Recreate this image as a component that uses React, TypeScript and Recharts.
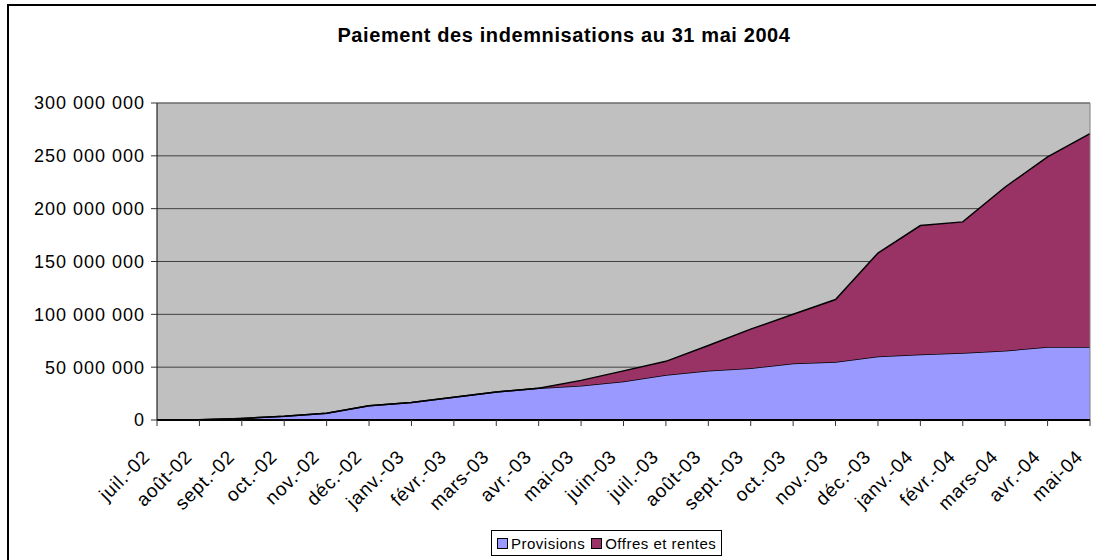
import { AreaChart, Area, XAxis, YAxis, CartesianGrid, ReferenceLine } from "recharts";

const months = [
  "juil.-02", "août-02", "sept.-02", "oct.-02", "nov.-02", "déc.-02",
  "janv.-03", "févr.-03", "mars-03", "avr.-03", "mai-03", "juin-03",
  "juil.-03", "août-03", "sept.-03", "oct.-03", "nov.-03", "déc.-03",
  "janv.-04", "févr.-04", "mars-04", "avr.-04", "mai-04",
];

const provisions = [
  0, 300000, 1500000, 3500000, 6500000, 13500000,
  16500000, 21500000, 26500000, 30000000, 32500000, 36500000,
  42500000, 46500000, 49000000, 53500000, 55000000, 60000000,
  62000000, 63500000, 65500000, 69000000, 69000000,
];

const offres = [
  0, 0, 0, 0, 0, 0,
  0, 0, 0, 0, 5000000, 10000000,
  13000000, 24000000, 37000000, 46500000, 59000000, 98000000,
  122000000, 124000000, 155000000, 180000000, 202000000,
];

const yTicks = [0, 50000000, 100000000, 150000000, 200000000, 250000000, 300000000];

const data = months.map((m, i) => ({ month: m, provisions: provisions[i], offres: offres[i] }));

const font = "'Liberation Sans', Arial, sans-serif";

const fmt = (v: number) => v.toString().replace(/\B(?=(\d{3})+(?!\d))/g, " ");

function MonthTick(props: any) {
  const { x, y, payload } = props;
  return (
    <g transform={`translate(${x - 6},${y + 30})`}>
      <text
        transform="rotate(-45)"
        textAnchor="end"
        fontSize={19}
        letterSpacing={0.8}
        fontFamily={font}
        fill="#000"
      >
        {payload.value}
      </text>
    </g>
  );
}

export default function App() {
  return (
    <div style={{ position: "absolute", left: 0, top: 0, width: 1096, height: 560, overflow: "hidden", background: "#fff" }}>
      <div
        style={{
          position: "absolute", left: 7, top: 4, width: 1100, height: 580,
          border: "2px solid #000",
        }}
      />
      <div
        style={{
          position: "absolute", left: 0, top: 24, width: 1128, textAlign: "center",
          fontFamily: font, fontWeight: "bold", fontSize: 20, letterSpacing: 0.6,
        }}
      >
        Paiement des indemnisations au 31 mai 2004
      </div>
      <div style={{ position: "absolute", left: 0, top: 0 }}>
        <AreaChart width={1096} height={560} data={data} margin={{ top: 103, right: 6, left: 0, bottom: 0 }}>
          <CartesianGrid vertical={false} fill="#C0C0C0" stroke="#404040" strokeWidth={1} />
          <XAxis
            dataKey="month"
            interval={0}
            height={140}
            tick={<MonthTick />}
            tickLine={{ stroke: "#333" }}
            tickSize={6}
            axisLine={{ stroke: "#000", strokeWidth: 2 }}
          />
          <YAxis
            width={157}
            domain={[0, 300000000]}
            ticks={yTicks}
            tickFormatter={fmt}
            tickSize={6}
            tickMargin={6}
            tick={{ fontSize: 18, fill: "#000", fontFamily: font, letterSpacing: 1 } as any}
            tickLine={{ stroke: "#333" }}
            axisLine={{ stroke: "#000" }}
          />
          <ReferenceLine y={300000000} stroke="#808080" />
          <ReferenceLine x="mai-04" stroke="#808080" />
          <Area
            type="linear"
            dataKey="provisions"
            stackId="a"
            fill="#9999FF"
            fillOpacity={1}
            stroke="#000"
            strokeWidth={1.5}
            isAnimationActive={false}
          />
          <Area
            type="linear"
            dataKey="offres"
            stackId="a"
            fill="#993366"
            fillOpacity={1}
            stroke="#000"
            strokeWidth={1.5}
            isAnimationActive={false}
          />
        </AreaChart>
      </div>
      <div
        style={{
          position: "absolute", left: 491, top: 530, height: 24, padding: "0 5px",
          border: "1px solid #000", display: "flex", alignItems: "center",
          fontFamily: font, fontSize: 15, letterSpacing: 0.5, background: "#fff",
        }}
      >
        <span style={{ width: 9, height: 9, background: "#9999FF", border: "1px solid #000", marginRight: 3, display: "inline-block" }} />
        <span style={{ marginRight: 6 }}>Provisions</span>
        <span style={{ width: 9, height: 9, background: "#993366", border: "1px solid #000", marginRight: 3, display: "inline-block" }} />
        <span>Offres et rentes</span>
      </div>
    </div>
  );
}
